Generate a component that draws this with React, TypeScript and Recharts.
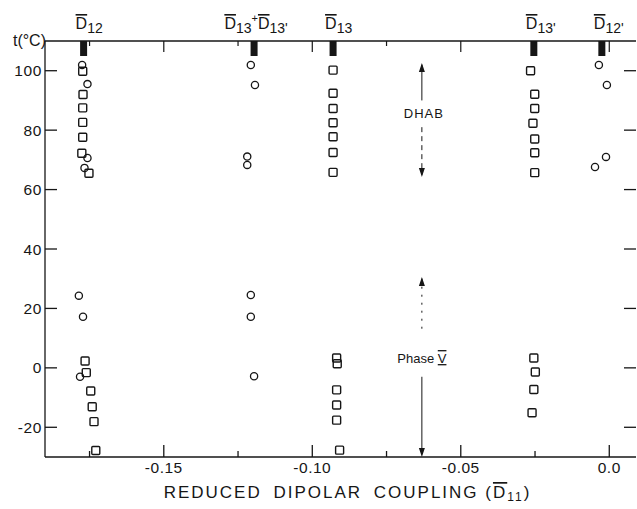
import React from 'react';
import { ScatterChart, Scatter, XAxis, YAxis, ReferenceLine, ReferenceDot } from 'recharts';

const INK = '#161616';
const FONT = '"Liberation Sans", Arial, sans-serif';

const xTicks = [-0.175, -0.15, -0.125, -0.1, -0.075, -0.05, -0.025, 0];
const yTicks = [-20, 0, 20, 40, 60, 80, 100];

// dipolar coupling assignments marked on the top axis
const topMarkers = [
  { x: -0.177, y: 110, label: 'D12' },
  { x: -0.1196, y: 110, label: "D13+D13'" },
  { x: -0.093, y: 110, label: 'D13' },
  { x: -0.0254, y: 110, label: "D13'" },
  { x: -0.0025, y: 110, label: "D12'" },
];

const d12Squares = [
  { x: -0.1773, y: 99.8 }, { x: -0.1772, y: 92.0 }, { x: -0.1773, y: 87.5 },
  { x: -0.1773, y: 82.6 }, { x: -0.1773, y: 77.6 }, { x: -0.1776, y: 72.2 },
  { x: -0.1752, y: 65.5 },
  { x: -0.1765, y: 2.3 }, { x: -0.1761, y: -1.6 }, { x: -0.1746, y: -7.8 },
  { x: -0.1741, y: -13.1 }, { x: -0.1735, y: -18.1 }, { x: -0.1729, y: -27.8 },
];
const d12Circles = [
  { x: -0.1775, y: 101.9 }, { x: -0.1757, y: 95.5 }, { x: -0.1757, y: 70.6 },
  { x: -0.1767, y: 67.3 }, { x: -0.1786, y: 24.3 }, { x: -0.1772, y: 17.2 },
  { x: -0.1782, y: -3.0 },
];
const d13PairCircles = [
  { x: -0.1207, y: 101.9 }, { x: -0.1193, y: 95.2 }, { x: -0.1219, y: 71.1 },
  { x: -0.1219, y: 68.3 }, { x: -0.1207, y: 24.5 }, { x: -0.1207, y: 17.2 },
  { x: -0.1196, y: -2.8 },
];
const d13Squares = [
  { x: -0.093, y: 100.2 }, { x: -0.093, y: 92.4 }, { x: -0.093, y: 87.3 },
  { x: -0.093, y: 82.5 }, { x: -0.093, y: 77.8 }, { x: -0.093, y: 72.5 },
  { x: -0.093, y: 65.8 },
  { x: -0.0918, y: 3.3 }, { x: -0.0916, y: 1.4 }, { x: -0.0918, y: -7.4 },
  { x: -0.0918, y: -12.5 }, { x: -0.0918, y: -17.6 }, { x: -0.0908, y: -27.7 },
];
const d13pSquares = [
  { x: -0.0265, y: 100.0 }, { x: -0.0251, y: 92.1 }, { x: -0.0251, y: 87.3 },
  { x: -0.0257, y: 82.3 }, { x: -0.0251, y: 77.0 }, { x: -0.0251, y: 72.4 },
  { x: -0.0251, y: 65.7 },
  { x: -0.0254, y: 3.3 }, { x: -0.0249, y: -1.4 }, { x: -0.0254, y: -7.3 },
  { x: -0.026, y: -15.1 },
];
const d12pCircles = [
  { x: -0.0035, y: 101.9 }, { x: -0.0008, y: 95.2 }, { x: -0.0048, y: 67.6 },
  { x: -0.0011, y: 71.0 },
];

// phase annotation arrows
const arrowX = -0.0631;
const arrowUps = [{ x: arrowX, y: 102.6 }, { x: arrowX, y: 30.6 }];
const arrowDowns = [{ x: arrowX, y: 64.2 }, { x: arrowX, y: -30 }];
const phaseLabels = [
  { x: arrowX, y: 85.8, text: 'DHAB' },
  { x: arrowX, y: 3.3, text: 'Phase V' },
];

const X_DOMAIN = [-0.19, 0.009];
const Y_DOMAIN = [-30, 110];

const isMajor = (v: number) => Math.abs(v * 20 - Math.round(v * 20)) < 1e-6;
const fmtX = (v: number) => (Math.abs(v) < 1e-9 ? '0.0' : v.toFixed(2));

const BottomTick = (props: any) => {
  const { x, y, payload } = props;
  const major = isMajor(payload.value);
  return (
    <g>
      <line x1={x} x2={x} y1={y} y2={y - (major ? 12 : 6)} stroke={INK} strokeWidth={1.3} />
      {major && (
        <text x={x} y={y + 16} textAnchor="middle" fontSize={15.5} fill={INK} letterSpacing={0.5} fontFamily={FONT}>
          {fmtX(payload.value)}
        </text>
      )}
    </g>
  );
};

const TopTick = (props: any) => {
  const { x, y, payload } = props;
  const major = isMajor(payload.value);
  return <line x1={x} x2={x} y1={y} y2={y + (major ? 11 : 5)} stroke={INK} strokeWidth={1.2} />;
};

// right-hand ticks point into the plot, no labels
const RightTick = (props: any) => {
  const { x, y } = props;
  return <line x1={x - 12} x2={x} y1={y} y2={y} stroke={INK} strokeWidth={1.3} />;
};

// "D12" -> overlined D with subscript 12 (relative dy only, so the text stays one chunk)
const renderCoupling = (label: string, size: number, subSize: number) => {
  const parts: React.ReactNode[] = [];
  const re = /D(\d+'?)|(\+)/g;
  let m: RegExpExecArray | null;
  let i = 0;
  let level = 0;
  const go = (target: number) => {
    const d = target - level;
    level = target;
    return d;
  };
  while ((m = re.exec(label))) {
    if (m[2]) {
      parts.push(<tspan key={i++} dy={go(-7)} fontSize={size - 5}>+</tspan>);
    } else {
      parts.push(<tspan key={i++} dy={go(0)} fontSize={size} style={{ textDecoration: 'overline' }}>D</tspan>);
      parts.push(<tspan key={i++} dy={go(4)} fontSize={subSize}>{m[1]}</tspan>);
    }
  }
  return parts;
};

const TopMarker = (props: any) => {
  const { cx, cy, payload } = props;
  const combined = payload.label.includes('+');
  return (
    <g>
      <rect x={cx - 3.5} y={cy} width={7} height={15} fill={INK} />
      <text
        x={combined ? cx + 2 : cx - 8}
        y={cy - 12}
        textAnchor={combined ? 'middle' : 'start'}
        fill={INK}
        fontFamily={FONT}
      >
        {renderCoupling(payload.label, 16, 14)}
      </text>
    </g>
  );
};

const SquareMark = (p: any) => (
  <rect x={p.cx - 4} y={p.cy - 4} width={8} height={8} rx={1} fill="none" stroke={INK} strokeWidth={1.4} />
);
const CircleMark = (p: any) => (
  <circle cx={p.cx} cy={p.cy} r={3.6} fill="none" stroke={INK} strokeWidth={1.3} />
);
const ArrowUp = (p: any) => (
  <path d={`M${p.cx},${p.cy} L${p.cx - 3},${p.cy + 9} L${p.cx + 3},${p.cy + 9} Z`} fill={INK} />
);
const ArrowDown = (p: any) => (
  <path d={`M${p.cx},${p.cy} L${p.cx - 3},${p.cy - 9} L${p.cx + 3},${p.cy - 9} Z`} fill={INK} />
);

const XTitle = (props: any) => {
  const { viewBox } = props;
  const cx = viewBox.x + viewBox.width / 2 + 7;
  const base = viewBox.y + 41;
  return (
    <text
      x={cx}
      y={base}
      textAnchor="middle"
      fontSize={17}
      fill={INK}
      letterSpacing={2}
      wordSpacing={5}
      fontFamily={FONT}
    >
      <tspan>REDUCED DIPOLAR COUPLING</tspan>
      <tspan style={{ wordSpacing: 0 }}> (</tspan>
      <tspan style={{ textDecoration: 'overline' }}>D</tspan>
      <tspan dy={3} fontSize={12}>11</tspan>
      <tspan dy={-3}>)</tspan>
    </text>
  );
};

const YTitle = (props: any) => {
  const { viewBox } = props;
  return (
    <text x={viewBox.x + viewBox.width + 1} y={viewBox.y + 5} textAnchor="end" fontSize={16} fill={INK} fontFamily={FONT}>
      t(°C)
    </text>
  );
};

export default function App() {
  return (
    <div style={{ position: 'absolute', left: 0, top: 0, width: 637, height: 509, background: '#fff', fontFamily: FONT }}>
      <ScatterChart width={637} height={509} margin={{ top: 40, right: 0, bottom: 0, left: 0 }}>
        <XAxis
          dataKey="x"
          type="number"
          domain={X_DOMAIN}
          ticks={xTicks}
          interval={0}
          tickSize={0}
          tickMargin={0}
          tickLine={false}
          tick={<BottomTick />}
          axisLine={{ stroke: INK, strokeWidth: 1.6 }}
          height={52}
          label={<XTitle />}
        />
        <XAxis
          xAxisId="top"
          orientation="top"
          dataKey="x"
          type="number"
          domain={X_DOMAIN}
          ticks={xTicks}
          interval={0}
          tickSize={0}
          tickMargin={0}
          tickLine={false}
          tick={<TopTick />}
          axisLine={{ stroke: INK, strokeWidth: 1.6 }}
          height={1}
        />
        <YAxis
          dataKey="y"
          type="number"
          domain={Y_DOMAIN}
          ticks={yTicks}
          interval={0}
          width={45}
          tickSize={-12}
          tickMargin={15}
          tick={{ fill: INK, fontSize: 15.5, fontFamily: FONT, letterSpacing: 0.6 }}
          tickLine={{ stroke: INK, strokeWidth: 1.3 }}
          axisLine={{ stroke: INK, strokeWidth: 1.3 }}
          label={<YTitle />}
        />
        <YAxis
          yAxisId="right"
          orientation="right"
          dataKey="y"
          type="number"
          domain={Y_DOMAIN}
          ticks={yTicks}
          interval={0}
          width={1}
          tickSize={0}
          tickMargin={0}
          tickLine={false}
          tick={<RightTick />}
          axisLine={false}
        />

        <ReferenceLine segment={[{ x: arrowX, y: 102 }, { x: arrowX, y: 90 }]} stroke={INK} strokeWidth={1} ifOverflow="visible" />
        <ReferenceLine segment={[{ x: arrowX, y: 81 }, { x: arrowX, y: 65 }]} stroke={INK} strokeWidth={1} strokeDasharray="5 4" ifOverflow="visible" />
        <ReferenceLine segment={[{ x: arrowX, y: 30 }, { x: arrowX, y: 12 }]} stroke={INK} strokeWidth={1} strokeDasharray="2 6" ifOverflow="visible" />
        <ReferenceLine segment={[{ x: arrowX, y: -3 }, { x: arrowX, y: -29 }]} stroke={INK} strokeWidth={1} ifOverflow="visible" />

        {phaseLabels.map((l) => (
          <ReferenceDot
            key={l.text}
            x={l.x}
            y={l.y}
            r={0}
            ifOverflow="visible"
            shape={(p: any) =>
              l.text === 'DHAB' ? (
                <text x={p.cx + 2} y={p.cy + 5} textAnchor="middle" fontSize={13} fill={INK} letterSpacing={1} fontFamily={FONT}>
                  DHAB
                </text>
              ) : (
                <text x={p.cx} y={p.cy + 5} textAnchor="middle" fontSize={13} fill={INK} fontFamily={FONT}>
                  Phase <tspan style={{ textDecoration: 'overline underline' }}>V</tspan>
                </text>
              )
            }
          />
        ))}

        <Scatter data={arrowUps} shape={<ArrowUp />} isAnimationActive={false} />
        <Scatter data={arrowDowns} shape={<ArrowDown />} isAnimationActive={false} />

        <Scatter data={d12Squares} shape={<SquareMark />} isAnimationActive={false} />
        <Scatter data={d13Squares} shape={<SquareMark />} isAnimationActive={false} />
        <Scatter data={d13pSquares} shape={<SquareMark />} isAnimationActive={false} />
        <Scatter data={d12Circles} shape={<CircleMark />} isAnimationActive={false} />
        <Scatter data={d13PairCircles} shape={<CircleMark />} isAnimationActive={false} />
        <Scatter data={d12pCircles} shape={<CircleMark />} isAnimationActive={false} />

        <Scatter xAxisId="top" yAxisId="right" data={topMarkers} shape={<TopMarker />} isAnimationActive={false} />
      </ScatterChart>
    </div>
  );
}
